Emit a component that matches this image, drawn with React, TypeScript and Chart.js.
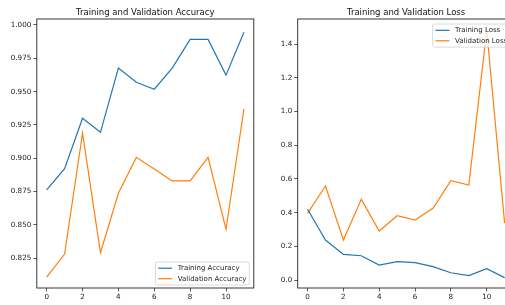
import React, { useEffect, useRef } from "react";
import { Chart, registerables } from "chart.js";
Chart.register(...registerables);

const epochs = [0, 1, 2, 3, 4, 5, 6, 7, 8, 9, 10, 11];
const trainAcc = [0.8763, 0.8922, 0.930, 0.9195, 0.9677, 0.957, 0.9518, 0.9677, 0.9892, 0.9892, 0.9624, 0.9946];
const valAcc = [0.8108, 0.8282, 0.9188, 0.8292, 0.8738, 0.9007, 0.8919, 0.883, 0.883, 0.9007, 0.8468, 0.937];
const trainLoss = [0.42, 0.2375, 0.152, 0.144, 0.089, 0.109, 0.103, 0.079, 0.043, 0.026, 0.067, 0.014];
const valLoss = [0.396, 0.558, 0.2375, 0.479, 0.291, 0.382, 0.356, 0.426, 0.59, 0.564, 1.48, 0.337];
const xTicks = [0, 2, 4, 6, 8, 10];
const accTicks = [0.825, 0.85, 0.875, 0.9, 0.925, 0.95, 0.975, 1.0];
const lossTicks = [0, 0.2, 0.4, 0.6, 0.8, 1.0, 1.2, 1.4];
const accLabels = ["Training Accuracy", "Validation Accuracy"];
const lossLabels = ["Training Loss", "Validation Loss"];

const BLUE = "#1f77b4";
const ORANGE = "#ff7f0e";
const FONT = "DejaVu Sans";
const H = 305;

type PanelProps = {
  left: number;
  width: number;
  area: { left: number; right: number; top: number; bottom: number };
  title: string;
  labels: string[];
  series: number[][];
  yMin: number;
  yMax: number;
  yTicks: number[];
  yDigits: number;
  legendPos: "lr" | "ur";
};

function Panel(p: PanelProps) {
  const ref = useRef<HTMLCanvasElement>(null);
  useEffect(() => {
    const cv = ref.current!;
    const colors = [BLUE, ORANGE];
    const deco = {
      id: "deco",
      afterDatasetsDraw(chart: any) {
        const ctx = chart.ctx;
        const a = chart.chartArea;
        ctx.save();
        // frame
        ctx.strokeStyle = "#222";
        ctx.lineWidth = 0.9;
        ctx.strokeRect(a.left, a.top, a.right - a.left, a.bottom - a.top);
        // title
        ctx.fillStyle = "#111";
        ctx.font = `8.5px "${FONT}"`;
        ctx.textAlign = "center";
        ctx.textBaseline = "middle";
        ctx.fillText(p.title, (a.left + a.right) / 2, a.top - 6);
        // legend
        const fs = 7;
        ctx.font = `${fs}px "${FONT}"`;
        const tw = Math.max(...p.labels.map((l) => ctx.measureText(l).width));
        const pad = 0.4 * fs;
        const hl = 2 * fs;
        const tp = 0.8 * fs;
        const w = pad * 2 + hl + tp + tw;
        const h = pad * 2 + 2 * fs + 0.5 * fs;
        const x = a.right - 4.5 - w;
        const y = p.legendPos === "lr" ? a.bottom - 3 - h : a.top + 5;
        ctx.fillStyle = "rgba(255,255,255,0.8)";
        ctx.strokeStyle = "rgba(204,204,204,0.9)";
        ctx.lineWidth = 0.8;
        ctx.beginPath();
        (ctx as any).roundRect(x, y, w, h, 2);
        ctx.fill();
        ctx.stroke();
        ctx.textAlign = "left";
        p.labels.forEach((l, i) => {
          const cy = y + pad + fs / 2 + i * 1.5 * fs;
          ctx.strokeStyle = colors[i];
          ctx.lineWidth = 1.2;
          ctx.beginPath();
          ctx.moveTo(x + pad, cy);
          ctx.lineTo(x + pad + hl, cy);
          ctx.stroke();
          ctx.fillStyle = "#222";
          ctx.fillText(l, x + pad + hl + tp, cy);
        });
        ctx.restore();
      },
    };
    const tickFont = { family: FONT, size: 7.2 };
    const chart = new Chart(cv, {
      type: "line",
      data: {
        datasets: p.series.map((s, i) => ({
          label: p.labels[i],
          data: epochs.map((e, j) => ({ x: e, y: s[j] })),
          borderColor: colors[i],
          backgroundColor: colors[i],
          borderWidth: 1.2,
          pointRadius: 0,
          tension: 0,
          fill: false,
        })),
      },
      options: {
        animation: false,
        responsive: false,
        maintainAspectRatio: false,
        layout: { padding: { top: p.area.top, right: p.width - p.area.right, left: 0, bottom: 0 } },
        plugins: { legend: { display: false }, tooltip: { enabled: false }, title: { display: false } },
        scales: {
          x: {
            type: "linear",
            min: -0.55,
            max: 11.55,
            afterBuildTicks: (s: any) => {
              s.ticks = xTicks.map((v) => ({ value: v }));
            },
            afterFit: (s: any) => {
              s.height = H - p.area.bottom;
            },
            grid: { drawOnChartArea: false, drawTicks: true, tickLength: 3.5, color: "#333", lineWidth: 0.8 },
            border: { display: false },
            ticks: {
              font: tickFont,
              color: "#222",
              padding: 1.5,
              autoSkip: false,
              maxRotation: 0,
              callback: (v: any) => String(v),
            },
          },
          y: {
            type: "linear",
            min: p.yMin,
            max: p.yMax,
            afterBuildTicks: (s: any) => {
              s.ticks = p.yTicks.map((v) => ({ value: v }));
            },
            afterFit: (s: any) => {
              s.width = p.area.left;
            },
            grid: { drawOnChartArea: false, drawTicks: true, tickLength: 3.5, color: "#333", lineWidth: 0.8 },
            border: { display: false },
            ticks: {
              font: tickFont,
              color: "#222",
              padding: 2,
              autoSkip: false,
              callback: (v: any) => Number(v).toFixed(p.yDigits),
            },
          },
        },
      },
      plugins: [deco],
    } as any);
    return () => chart.destroy();
  }, []);
  return (
    <canvas
      ref={ref}
      width={p.width}
      height={H}
      style={{ position: "absolute", left: p.left, top: 0, width: p.width, height: H, display: "block" }}
    />
  );
}

export default function App() {
  return (
    <div
      style={{
        position: "fixed",
        left: 0,
        top: 0,
        width: 505,
        height: 305,
        overflow: "hidden",
        background: "#fff",
      }}
    >
      <Panel
        left={0}
        width={262}
        area={{ left: 36.8, right: 253.8, top: 19, bottom: 288 }}
        title="Training and Validation Accuracy"
        labels={accLabels}
        series={[trainAcc, valAcc]}
        yMin={0.8027}
        yMax={1.0045}
        yTicks={accTicks}
        yDigits={3}
        legendPos="lr"
      />
      <Panel
        left={262}
        width={262}
        area={{ left: 35.7, right: 252.5, top: 19, bottom: 288 }}
        title="Training and Validation Loss"
        labels={lossLabels}
        series={[trainLoss, valLoss]}
        yMin={-0.0475}
        yMax={1.55}
        yTicks={lossTicks}
        yDigits={1}
        legendPos="ur"
      />
    </div>
  );
}
